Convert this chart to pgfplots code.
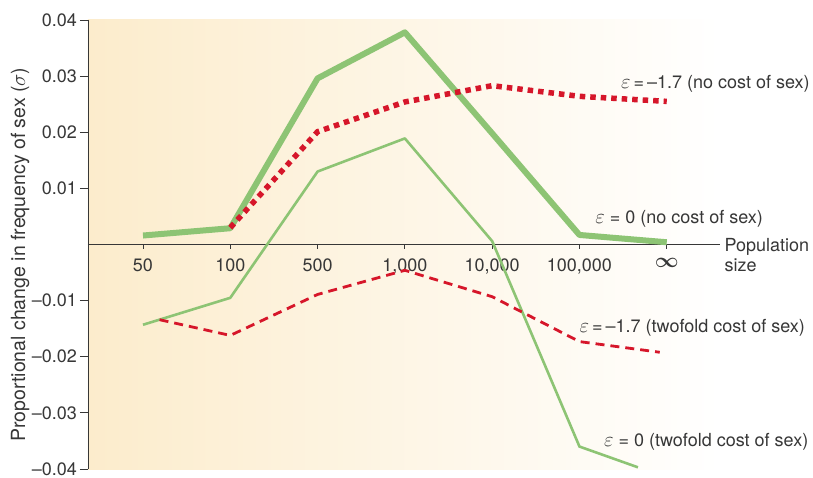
\documentclass[border=0pt]{standalone}
\usepackage{amsmath}
\usepackage{pgfplots}
\pgfplotsset{compat=1.18}
\usepackage{fontspec}
\setmainfont{TeX Gyre Heros}
\definecolor{lgreen}{RGB}{141,196,116}
\definecolor{dred}{RGB}{214,22,42}
\definecolor{bgor}{RGB}{252,236,204}
\definecolor{bgmid}{RGB}{254,246,232}
\definecolor{axgray}{RGB}{55,55,55}
\newcommand{\eps}{{\fontsize{20}{20}\selectfont$\varepsilon$}}
\begin{document}
\fontsize{18}{20}\selectfont
\begin{tikzpicture}
\useasboundingbox (-88pt,-8pt) rectangle (725pt,469pt);
\begin{axis}[
 at={(0pt,0pt)}, anchor=south west,
 scale only axis, width=632pt, height=449pt,
 xmin=-0.63, xmax=6.61, ymin=-0.04, ymax=0.04,
 axis x line*=middle, axis y line*=left,
 axis line style={axgray, line width=0.8pt},
 scaled y ticks=false,
 xtick={0,...,6},
 xticklabels={50,100,500,{1,000},{10,000},{100,000},{\fontsize{22}{20}\selectfont$\boldsymbol{\infty}$}},
 ytick={-0.04,-0.03,-0.02,-0.01,0.01,0.02,0.03,0.04},
 yticklabels={–0.04,–0.03,–0.02,–0.01,0.01,0.02,0.03,0.04},
 tick align=outside, major tick length=8pt,
 xtick style={/pgfplots/major tick length=4pt},
 tick style={axgray, line width=0.8pt},
 ticklabel style={font=\fontsize{18}{20}\selectfont, text=axgray},
 yticklabel style={inner sep=3pt},
 clip=false,
 axis background/.style={shade, left color=bgor, middle color=bgmid, right color=white},
]
\addplot[lgreen, line width=6pt, line join=round] coordinates {
 (0,0.0016) (1,0.0029) (2,0.0296) (3,0.0378) (4,0.0198) (5,0.0017) (6,0.0004)};
\addplot[lgreen, line width=2.6pt, line join=round] coordinates {
 (0,-0.0143) (1,-0.0095) (2,0.0130) (3,0.0189) (4,0.0006) (5,-0.0360) (5.67,-0.0397)};
\addplot[dred, line width=5.5pt, dash pattern=on 5.5pt off 5pt] coordinates {
 (1,0.0030) (2,0.0201) (3,0.0254) (4,0.0283) (5,0.0264) (6,0.0255)};
\addplot[dred, line width=2.8pt, dash pattern=on 9pt off 6pt] coordinates {
 (0.19,-0.0134) (1,-0.0162) (2,-0.0089) (3,-0.0046) (4,-0.0093) (5,-0.0173) (5.92,-0.0192)};
\begin{scope}[every node/.style={inner sep=0pt, text=axgray, font=\fontsize{18}{20}\selectfont}]
\node[anchor=east] at (axis cs:7.64,0.0286) {\eps\,=\,–1.7 (no cost of sex)};
\node[anchor=west] at (axis cs:5.18,0.0046) {\eps{} = 0 (no cost of sex)};
\node[anchor=west] at (axis cs:5.0,-0.0148) {\eps\,=\,–1.7 (twofold cost of sex)};
\node[anchor=west] at (axis cs:5.28,-0.0351) {\eps{} = 0 (twofold cost of sex)};
\node[anchor=west, align=left] at (axis cs:6.66,-0.0018) {Population\\size};
\node[rotate=90, font=\fontsize{19.5}{20}\selectfont] at ([xshift=-68pt]axis cs:-0.63,-0.0018) {Proportional change in frequency of sex ($\sigma$)};
\end{scope}
\end{axis}
\end{tikzpicture}
\end{document}
